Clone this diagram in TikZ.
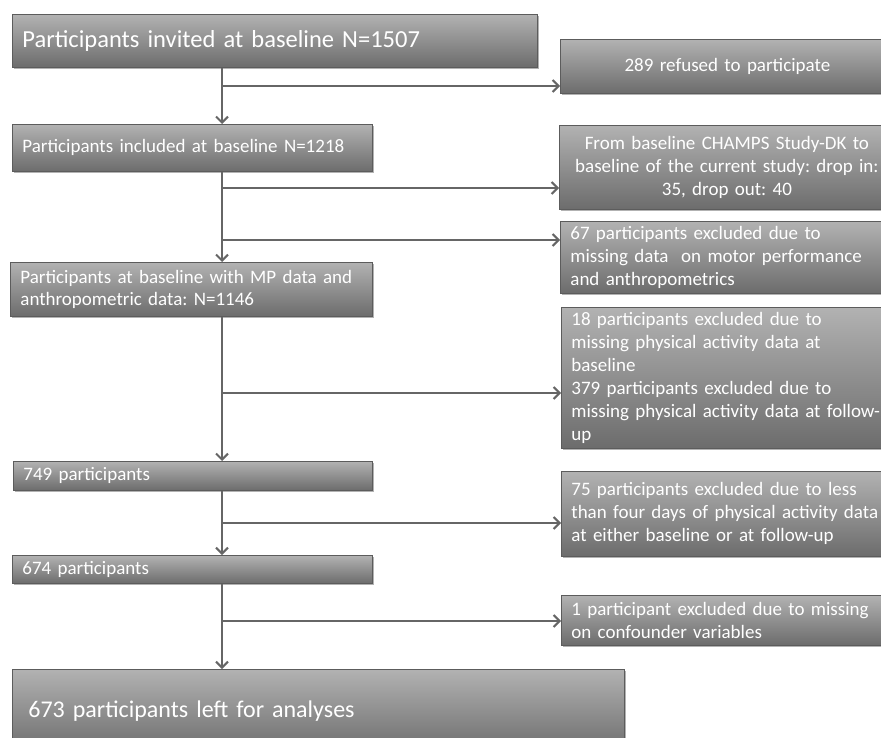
\documentclass[tikz,border=0pt]{standalone}
\usepackage{fontspec}
\setmainfont{Carlito}
\frenchspacing
\usetikzlibrary{arrows.meta,shadows}
\definecolor{boxtop}{HTML}{B2B2B2}
\definecolor{boxbot}{HTML}{6C6C6C}
\definecolor{edgec}{HTML}{5C5C5C}
\definecolor{arrowc}{HTML}{666666}
\begin{document}
\begin{tikzpicture}[x=1pt,y=-1pt,
  box/.style={draw=edgec, line width=0.8pt, top color=boxtop, bottom color=boxbot,
    text=white, anchor=north west, inner xsep=10pt, inner ysep=2pt,
    drop shadow={shadow xshift=1.5pt, shadow yshift=-2pt, opacity=0.3, fill=black}},
  small/.style={font=\fontsize{19}{22}\selectfont\frenchspacing, align=left},
  side/.style={font=\fontsize{19}{23}\selectfont\frenchspacing, align=left},
  big/.style={align=left},
  arr/.style={draw=arrowc, line width=2.1pt, -{Straight Barb[length=6pt,width=12pt,line width=2pt]}}]
\useasboundingbox (0,0) rectangle (881,738);
\clip (0,0) rectangle (881,738);
% left column
\node[box, big, font=\fontsize{24.5}{28}\selectfont, minimum width=525pt, minimum height=53pt, text width=505pt] (b1) at (12,14) {Participants invited at baseline N=1507};
\node[box, small, minimum width=360pt, minimum height=47pt, text width=340pt] (b2) at (12,124) {Participants included at baseline N=1218};
\node[box, small, minimum width=362pt, minimum height=54pt, text width=342pt] (b3) at (10,262) {Participants at baseline with MP data and\\anthropometric data: N=1146};
\node[box, small, minimum width=359pt, minimum height=29pt, text width=339pt] (b4) at (13,461) {749 participants};
\node[box, small, minimum width=360pt, minimum height=28pt, text width=340pt] (b5) at (12,555) {674 participants};
\node[box, big, font=\fontsize{24}{28}\selectfont, minimum width=612pt, minimum height=84pt, inner xsep=16pt, text width=580pt] (b6) at (12,669) {673 participants left for analyses};
% right column
\node[box, side, align=center, minimum width=334pt, minimum height=54pt, text width=314pt] (r1) at (560,39) {289 refused to participate};
\node[box, side, align=center, minimum width=335pt, minimum height=84pt, text width=315pt] (r2) at (559,125) {From baseline CHAMPS Study-DK to\\baseline of the current study: drop in:\\35, drop out: 40};
\node[box, side, minimum width=334pt, minimum height=72pt, text width=314pt] (r3) at (560,221) {67 participants excluded due to\\missing data\ \ on motor performance\\and anthropometrics};
\node[box, side, minimum width=333pt, minimum height=141pt, text width=313pt] (r4) at (561,307) {18 participants excluded due to\\missing physical activity data at\\baseline\\379 participants excluded due to\\missing physical activity data at follow-\\up};
\node[box, side, minimum width=333pt, minimum height=85pt, text width=313pt] (r5) at (561,471) {75 participants excluded due to less\\than four days of physical activity data\\at either baseline or at follow-up};
\node[box, side, minimum width=333pt, minimum height=50pt, text width=313pt] (r6) at (561,595) {1 participant excluded due to missing\\on confounder variables};
% spine
\coordinate (sx) at (222,0);
\draw[arr] (b1.south -| sx) -- (b2.north -| sx);
\draw[arr] (b2.south -| sx) -- (b3.north -| sx);
\draw[arr] (b3.south -| sx) -- (b4.north -| sx);
\draw[arr] (b4.south -| sx) -- (b5.north -| sx);
\draw[arr] (b5.south -| sx) -- (b6.north -| sx);
% side arrows
\coordinate (h1) at (222,86);
\coordinate (h2) at (222,188);
\coordinate (h3) at (222,240);
\coordinate (h4) at (222,393);
\coordinate (h5) at (222,523);
\coordinate (h6) at (222,621);
\draw[arr] (h1) -- (h1 -| r1.west);
\draw[arr] (h2) -- (h2 -| r2.west);
\draw[arr] (h3) -- (h3 -| r3.west);
\draw[arr] (h4) -- (h4 -| r4.west);
\draw[arr] (h5) -- (h5 -| r5.west);
\draw[arr] (h6) -- (h6 -| r6.west);
\end{tikzpicture}
\end{document}
